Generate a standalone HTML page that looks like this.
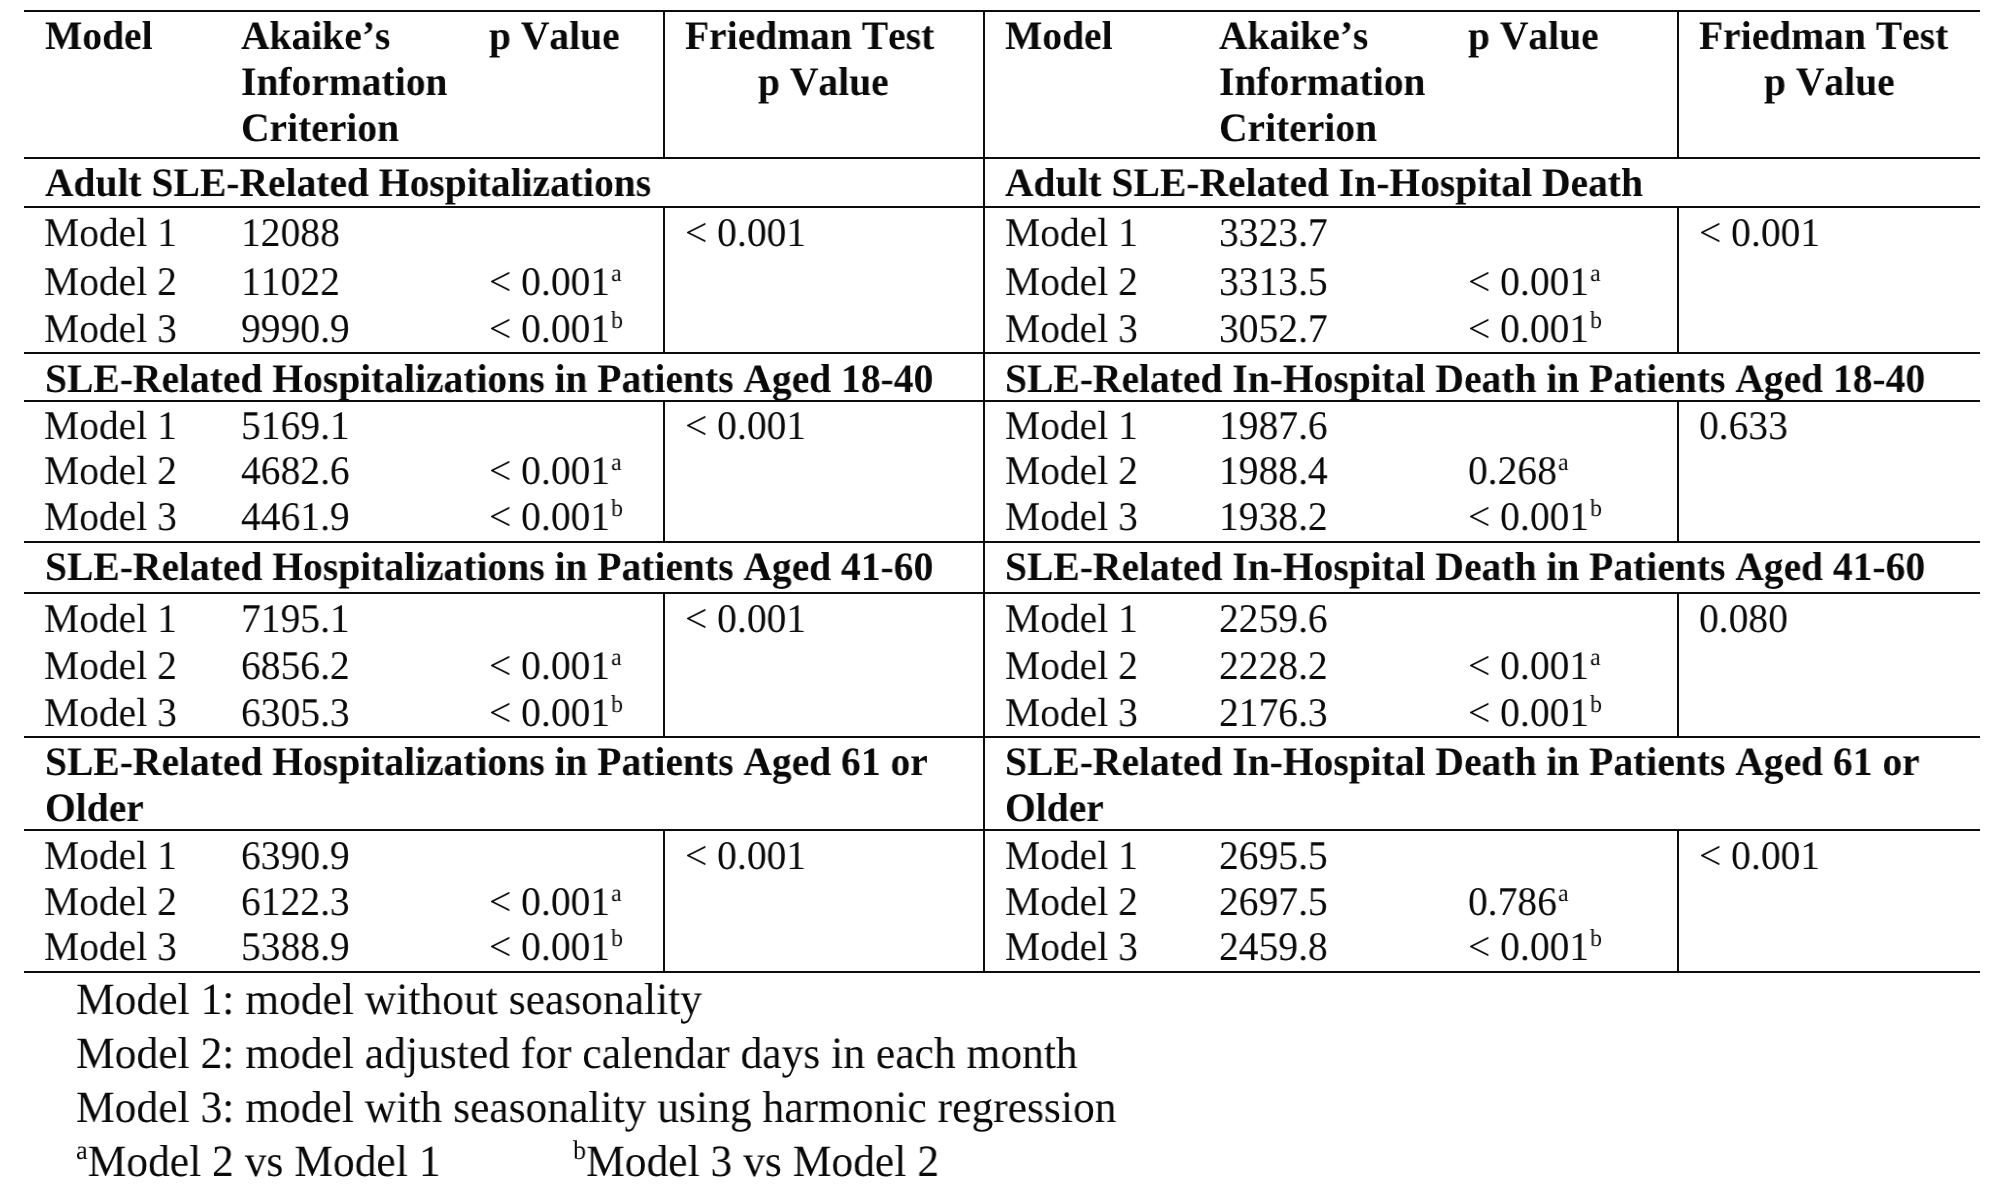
<!DOCTYPE html>
<html lang="en"><head><meta charset="utf-8"><title>Table</title>
<style>
html,body{margin:0;padding:0;background:#fff;}
body{width:2000px;height:1202px;position:relative;overflow:hidden;font-family:"Liberation Serif","Times New Roman",serif;color:#0a0a0a;}
.t{position:absolute;white-space:pre;line-height:1;font-kerning:none;transform:scaleX(0.9713);transform-origin:0 0;will-change:transform;text-rendering:geometricPrecision;}
.b{font-weight:bold;transform:scaleX(0.9809);}
.s{font-size:0.6em;position:relative;top:-0.57em;line-height:0;margin-left:1.2px;}
.f{font-size:0.6em;position:relative;top:-0.63em;line-height:0;}
.l{position:absolute;background:#0c0c0c;}
</style></head><body>
<div class="l" style="left:24.00px;top:10.00px;width:1956.00px;height:2.00px"></div>
<div class="l" style="left:24.00px;top:157.00px;width:1956.00px;height:2.00px"></div>
<div class="l" style="left:24.00px;top:206.00px;width:1956.00px;height:2.00px"></div>
<div class="l" style="left:24.00px;top:352.00px;width:1956.00px;height:2.00px"></div>
<div class="l" style="left:24.00px;top:400.00px;width:1956.00px;height:2.00px"></div>
<div class="l" style="left:24.00px;top:541.00px;width:1956.00px;height:2.00px"></div>
<div class="l" style="left:24.00px;top:592.00px;width:1956.00px;height:2.00px"></div>
<div class="l" style="left:24.00px;top:736.00px;width:1956.00px;height:2.00px"></div>
<div class="l" style="left:24.00px;top:829.00px;width:1956.00px;height:2.00px"></div>
<div class="l" style="left:24.00px;top:971.00px;width:1956.00px;height:2.00px"></div>
<div class="l" style="left:983.00px;top:10.00px;width:2.00px;height:963.00px"></div>
<div class="l" style="left:663.00px;top:10.00px;width:2.00px;height:149.00px"></div>
<div class="l" style="left:663.00px;top:206.00px;width:2.00px;height:148.00px"></div>
<div class="l" style="left:663.00px;top:400.00px;width:2.00px;height:143.00px"></div>
<div class="l" style="left:663.00px;top:592.00px;width:2.00px;height:146.00px"></div>
<div class="l" style="left:663.00px;top:829.00px;width:2.00px;height:144.00px"></div>
<div class="l" style="left:1677.00px;top:10.00px;width:2.00px;height:149.00px"></div>
<div class="l" style="left:1677.00px;top:206.00px;width:2.00px;height:148.00px"></div>
<div class="l" style="left:1677.00px;top:400.00px;width:2.00px;height:143.00px"></div>
<div class="l" style="left:1677.00px;top:592.00px;width:2.00px;height:146.00px"></div>
<div class="l" style="left:1677.00px;top:829.00px;width:2.00px;height:144.00px"></div>
<div class="t b" style="left:45.00px;top:16.00px;font-size:40.30px">Model</div>
<div class="t b" style="left:241.00px;top:16.00px;font-size:40.30px">Akaike’s</div>
<div class="t b" style="left:241.00px;top:62.00px;font-size:40.30px">Information</div>
<div class="t b" style="left:241.00px;top:108.00px;font-size:40.30px">Criterion</div>
<div class="t b" style="left:489.00px;top:16.00px;font-size:40.30px">p Value</div>
<div class="t b" style="left:685.00px;top:16.00px;font-size:40.30px">Friedman Test</div>
<div class="t b" style="left:758.00px;top:62.00px;font-size:40.30px">p Value</div>
<div class="t b" style="left:1005.00px;top:16.00px;font-size:40.30px">Model</div>
<div class="t b" style="left:1218.50px;top:16.00px;font-size:40.30px">Akaike’s</div>
<div class="t b" style="left:1218.50px;top:62.00px;font-size:40.30px">Information</div>
<div class="t b" style="left:1218.50px;top:108.00px;font-size:40.30px">Criterion</div>
<div class="t b" style="left:1467.50px;top:16.00px;font-size:40.30px">p Value</div>
<div class="t b" style="left:1699.00px;top:16.00px;font-size:40.30px">Friedman Test</div>
<div class="t b" style="left:1764.00px;top:62.00px;font-size:40.30px">p Value</div>
<div class="t b" style="left:45.00px;top:163.00px;font-size:40.30px">Adult SLE-Related Hospitalizations</div>
<div class="t" style="left:44.20px;top:213.00px;font-size:40.70px">Model 1</div>
<div class="t" style="left:241.00px;top:213.00px;font-size:40.70px">12088</div>
<div class="t" style="left:44.20px;top:262.00px;font-size:40.70px">Model 2</div>
<div class="t" style="left:241.00px;top:262.00px;font-size:40.70px">11022</div>
<div class="t" style="left:489.00px;top:262.00px;font-size:40.70px">&lt; 0.001<span class="s">a</span></div>
<div class="t" style="left:44.20px;top:309.00px;font-size:40.70px">Model 3</div>
<div class="t" style="left:241.00px;top:309.00px;font-size:40.70px">9990.9</div>
<div class="t" style="left:489.00px;top:309.00px;font-size:40.70px">&lt; 0.001<span class="s">b</span></div>
<div class="t" style="left:685.00px;top:213.00px;font-size:40.70px">&lt; 0.001</div>
<div class="t b" style="left:1005.00px;top:163.00px;font-size:40.30px">Adult SLE-Related In-Hospital Death</div>
<div class="t" style="left:1004.50px;top:213.00px;font-size:40.70px">Model 1</div>
<div class="t" style="left:1218.50px;top:213.00px;font-size:40.70px">3323.7</div>
<div class="t" style="left:1004.50px;top:262.00px;font-size:40.70px">Model 2</div>
<div class="t" style="left:1218.50px;top:262.00px;font-size:40.70px">3313.5</div>
<div class="t" style="left:1467.50px;top:262.00px;font-size:40.70px">&lt; 0.001<span class="s">a</span></div>
<div class="t" style="left:1004.50px;top:309.00px;font-size:40.70px">Model 3</div>
<div class="t" style="left:1218.50px;top:309.00px;font-size:40.70px">3052.7</div>
<div class="t" style="left:1467.50px;top:309.00px;font-size:40.70px">&lt; 0.001<span class="s">b</span></div>
<div class="t" style="left:1699.00px;top:213.00px;font-size:40.70px">&lt; 0.001</div>
<div class="t b" style="left:45.00px;top:359.00px;font-size:40.30px">SLE-Related Hospitalizations in Patients Aged 18-40</div>
<div class="t" style="left:44.20px;top:406.00px;font-size:40.70px">Model 1</div>
<div class="t" style="left:241.00px;top:406.00px;font-size:40.70px">5169.1</div>
<div class="t" style="left:44.20px;top:451.00px;font-size:40.70px">Model 2</div>
<div class="t" style="left:241.00px;top:451.00px;font-size:40.70px">4682.6</div>
<div class="t" style="left:489.00px;top:451.00px;font-size:40.70px">&lt; 0.001<span class="s">a</span></div>
<div class="t" style="left:44.20px;top:497.00px;font-size:40.70px">Model 3</div>
<div class="t" style="left:241.00px;top:497.00px;font-size:40.70px">4461.9</div>
<div class="t" style="left:489.00px;top:497.00px;font-size:40.70px">&lt; 0.001<span class="s">b</span></div>
<div class="t" style="left:685.00px;top:406.00px;font-size:40.70px">&lt; 0.001</div>
<div class="t b" style="left:1005.00px;top:359.00px;font-size:40.30px">SLE-Related In-Hospital Death in Patients Aged 18-40</div>
<div class="t" style="left:1004.50px;top:406.00px;font-size:40.70px">Model 1</div>
<div class="t" style="left:1218.50px;top:406.00px;font-size:40.70px">1987.6</div>
<div class="t" style="left:1004.50px;top:451.00px;font-size:40.70px">Model 2</div>
<div class="t" style="left:1218.50px;top:451.00px;font-size:40.70px">1988.4</div>
<div class="t" style="left:1467.50px;top:451.00px;font-size:40.70px">0.268<span class="s">a</span></div>
<div class="t" style="left:1004.50px;top:497.00px;font-size:40.70px">Model 3</div>
<div class="t" style="left:1218.50px;top:497.00px;font-size:40.70px">1938.2</div>
<div class="t" style="left:1467.50px;top:497.00px;font-size:40.70px">&lt; 0.001<span class="s">b</span></div>
<div class="t" style="left:1699.00px;top:406.00px;font-size:40.70px">0.633</div>
<div class="t b" style="left:45.00px;top:547.00px;font-size:40.30px">SLE-Related Hospitalizations in Patients Aged 41-60</div>
<div class="t" style="left:44.20px;top:599.00px;font-size:40.70px">Model 1</div>
<div class="t" style="left:241.00px;top:599.00px;font-size:40.70px">7195.1</div>
<div class="t" style="left:44.20px;top:646.00px;font-size:40.70px">Model 2</div>
<div class="t" style="left:241.00px;top:646.00px;font-size:40.70px">6856.2</div>
<div class="t" style="left:489.00px;top:646.00px;font-size:40.70px">&lt; 0.001<span class="s">a</span></div>
<div class="t" style="left:44.20px;top:693.00px;font-size:40.70px">Model 3</div>
<div class="t" style="left:241.00px;top:693.00px;font-size:40.70px">6305.3</div>
<div class="t" style="left:489.00px;top:693.00px;font-size:40.70px">&lt; 0.001<span class="s">b</span></div>
<div class="t" style="left:685.00px;top:599.00px;font-size:40.70px">&lt; 0.001</div>
<div class="t b" style="left:1005.00px;top:547.00px;font-size:40.30px">SLE-Related In-Hospital Death in Patients Aged 41-60</div>
<div class="t" style="left:1004.50px;top:599.00px;font-size:40.70px">Model 1</div>
<div class="t" style="left:1218.50px;top:599.00px;font-size:40.70px">2259.6</div>
<div class="t" style="left:1004.50px;top:646.00px;font-size:40.70px">Model 2</div>
<div class="t" style="left:1218.50px;top:646.00px;font-size:40.70px">2228.2</div>
<div class="t" style="left:1467.50px;top:646.00px;font-size:40.70px">&lt; 0.001<span class="s">a</span></div>
<div class="t" style="left:1004.50px;top:693.00px;font-size:40.70px">Model 3</div>
<div class="t" style="left:1218.50px;top:693.00px;font-size:40.70px">2176.3</div>
<div class="t" style="left:1467.50px;top:693.00px;font-size:40.70px">&lt; 0.001<span class="s">b</span></div>
<div class="t" style="left:1699.00px;top:599.00px;font-size:40.70px">0.080</div>
<div class="t b" style="left:45.00px;top:742.00px;font-size:40.30px">SLE-Related Hospitalizations in Patients Aged 61 or</div>
<div class="t b" style="left:45.00px;top:788.00px;font-size:40.30px">Older</div>
<div class="t" style="left:44.20px;top:836.00px;font-size:40.70px">Model 1</div>
<div class="t" style="left:241.00px;top:836.00px;font-size:40.70px">6390.9</div>
<div class="t" style="left:44.20px;top:882.00px;font-size:40.70px">Model 2</div>
<div class="t" style="left:241.00px;top:882.00px;font-size:40.70px">6122.3</div>
<div class="t" style="left:489.00px;top:882.00px;font-size:40.70px">&lt; 0.001<span class="s">a</span></div>
<div class="t" style="left:44.20px;top:927.00px;font-size:40.70px">Model 3</div>
<div class="t" style="left:241.00px;top:927.00px;font-size:40.70px">5388.9</div>
<div class="t" style="left:489.00px;top:927.00px;font-size:40.70px">&lt; 0.001<span class="s">b</span></div>
<div class="t" style="left:685.00px;top:836.00px;font-size:40.70px">&lt; 0.001</div>
<div class="t b" style="left:1005.00px;top:742.00px;font-size:40.30px">SLE-Related In-Hospital Death in Patients Aged 61 or</div>
<div class="t b" style="left:1005.00px;top:788.00px;font-size:40.30px">Older</div>
<div class="t" style="left:1004.50px;top:836.00px;font-size:40.70px">Model 1</div>
<div class="t" style="left:1218.50px;top:836.00px;font-size:40.70px">2695.5</div>
<div class="t" style="left:1004.50px;top:882.00px;font-size:40.70px">Model 2</div>
<div class="t" style="left:1218.50px;top:882.00px;font-size:40.70px">2697.5</div>
<div class="t" style="left:1467.50px;top:882.00px;font-size:40.70px">0.786<span class="s">a</span></div>
<div class="t" style="left:1004.50px;top:927.00px;font-size:40.70px">Model 3</div>
<div class="t" style="left:1218.50px;top:927.00px;font-size:40.70px">2459.8</div>
<div class="t" style="left:1467.50px;top:927.00px;font-size:40.70px">&lt; 0.001<span class="s">b</span></div>
<div class="t" style="left:1699.00px;top:836.00px;font-size:40.70px">&lt; 0.001</div>
<div class="t" style="left:76.20px;top:977.00px;font-size:44.80px">Model 1: model without seasonality</div>
<div class="t" style="left:76.20px;top:1031.00px;font-size:44.80px">Model 2: model adjusted for calendar days in each month</div>
<div class="t" style="left:76.20px;top:1085.00px;font-size:44.80px">Model 3: model with seasonality using harmonic regression</div>
<div class="t" style="left:76.20px;top:1139.00px;font-size:44.80px"><span class="f">a</span>Model 2 vs Model 1</div>
<div class="t" style="left:573.30px;top:1139.00px;font-size:44.80px"><span class="f">b</span>Model 3 vs Model 2</div>
</body></html>
